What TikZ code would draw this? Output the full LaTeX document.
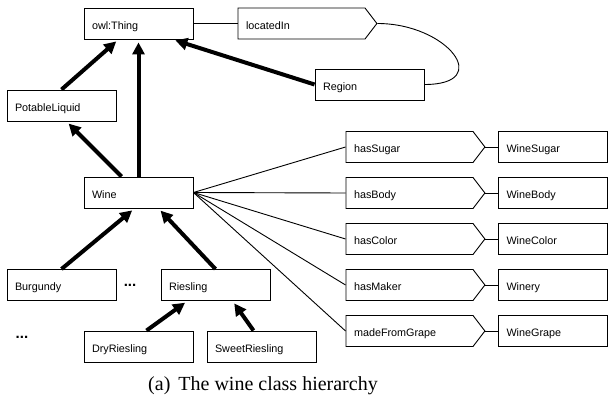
\documentclass[tikz,border=0pt]{standalone}
\usepackage{fontspec}
\setmainfont{Liberation Serif}
\setsansfont{Liberation Sans}
\usetikzlibrary{arrows.meta,shapes.symbols,positioning}
\tikzset{
    cls/.style =    {rectangle,
                    fill=white,
                    draw=black,
                    text=black,
                    line width=0.9pt,
                    minimum height=31pt,
                    text width=93pt,
                    text height=11.5pt,
                    text depth=0pt,
                    inner xsep=8pt,
                    align=left,
                    font=\sffamily\fontsize{10.8}{12}\selectfont},
    prop/.style =   {cls,
                    signal,
                    signal to=east,
                    signal pointer angle=105,
                    text width=111pt},
    -,
    isa/.style =    {-{Triangle[length=12pt,width=12pt]},
                    line width=4pt,
                    shorten >=3pt},
    rel/.style =    {line width=0.9pt},
    dots/.style =   {font=\sffamily\bfseries\fontsize{15}{16}\selectfont},
    node distance=46pt}

\begin{document}
\begin{tikzpicture}[x=1pt,y=-1pt]
    \useasboundingbox (0,0) rectangle (608,401);

    \node[cls]      (Thing)    at (138.5,23.5)  {owl:Thing};
    \node[prop]     (locatedIn) at (301.5,23.5) {locatedIn};
    \node[cls]      (Region)   at (369.5,84.5)  {Region};
    \node[cls]      (Potable)  at (61.5,105.5)  {PotableLiquid};
    \node[cls]      (Wine)     at (138.5,192.5) {Wine};
    \node[cls]      (Burgundy) at (61.5,285)    {Burgundy};
    \node[cls]      (Riesling) at (215.5,285)   {Riesling};
    \node[cls]      (DryR)     at (138.5,346.5) {DryRiesling};
    \node[cls]      (SweetR)   at (261.5,346.5) {SweetRiesling};
    \node[dots]     (dotsA)    at (130,285)     {...};
    \node[dots]     (dotsB)    at (22,337)      {...};

    \node[prop]     (hasSugar) at (409.5,147)   {hasSugar};
    \node[prop]     (hasBody)  [below of=hasSugar] {hasBody};
    \node[prop]     (hasColor) [below of=hasBody]  {hasColor};
    \node[prop]     (hasMaker) [below of=hasColor] {hasMaker};
    \node[prop]     (madeFrom) [below of=hasMaker] {madeFromGrape};

    \node[cls]      (WineSugar) at (553,147)    {WineSugar};
    \node[cls]      (WineBody)  [below of=WineSugar] {WineBody};
    \node[cls]      (WineColor) [below of=WineBody]  {WineColor};
    \node[cls]      (Winery)    [below of=WineColor] {Winery};
    \node[cls]      (WineGrape) [below of=Winery]    {WineGrape};

    \node           (caption)  at (263,386)     {\fontsize{20}{22}\selectfont (a)\hspace{0.4em}The wine class hierarchy};

    \path [isa]     (Potable.north)              edge ([xshift=-20pt]Thing.south)
                    (Wine.north)                 edge (Thing.south)
                    (Region.west)                edge ([xshift=34pt]Thing.south)
                    ([xshift=-17pt]Wine.north)   edge ([xshift=5pt]Potable.south)
                    (Burgundy.north)             edge ([xshift=-4pt]Wine.south)
                    (Riesling.north)             edge ([xshift=20pt]Wine.south)
                    ([xshift=8pt]DryR.north)     edge ([xshift=-28pt]Riesling.south)
                    ([xshift=-8pt]SweetR.north)  edge ([xshift=17pt]Riesling.south);

    \path [rel]     (Thing.east)     edge (locatedIn.west)
                    (Wine.east)      edge (hasSugar.west)
                    (Wine.east)      edge (hasBody.west)
                    (Wine.east)      edge (hasColor.west)
                    (Wine.east)      edge (hasMaker.west)
                    (Wine.east)      edge (madeFrom.west)
                    (hasSugar.east)  edge (WineSugar.west)
                    (hasBody.east)   edge (WineBody.west)
                    (hasColor.east)  edge (WineColor.west)
                    (hasMaker.east)  edge (Winery.west)
                    (madeFrom.east)  edge (WineGrape.west);
    \draw [rel]     (locatedIn.east) .. controls +(70,0) and +(70,0) .. (Region.east);
\end{tikzpicture}
\end{document}
